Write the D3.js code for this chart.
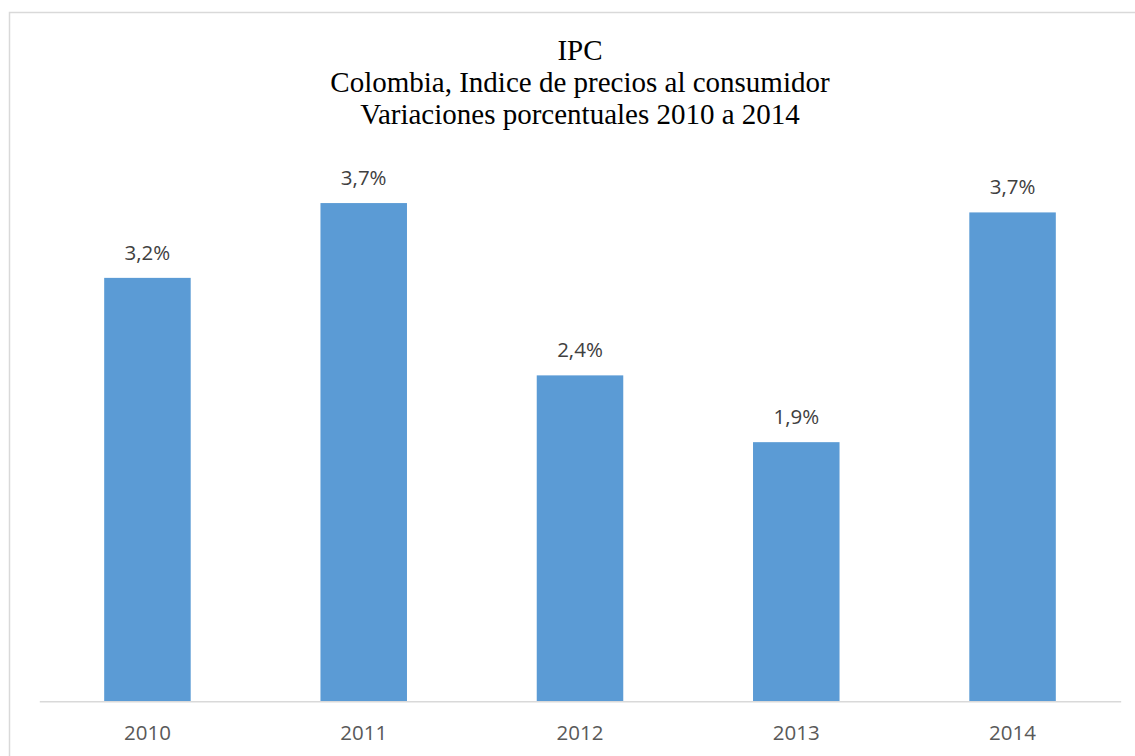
<!DOCTYPE html>
<html>
<head>
<meta charset="utf-8">
<script src="https://cdn.jsdelivr.net/npm/d3@7"></script>
<style>
  html, body { margin: 0; padding: 0; background: #fff; }
  svg { display: block; }
</style>
</head>
<body>
<svg id="chart" width="1135" height="756"></svg>
<script>
const categories = ["2010", "2011", "2012", "2013", "2014"];
const values = [3.17, 3.73, 2.44, 1.94, 3.66];
const titleLines = ["IPC", "Colombia, Indice de precios al consumidor", "Variaciones porcentuales 2010 a 2014"];

const svg = d3.select("#chart");
const W = 1135, H = 756;
const margin = { left: 39.3, right: W - 1120.7, top: 167, bottom: H - 701.3 };

svg.append("rect")
  .attr("x", 9.5).attr("y", 12.5)
  .attr("width", 1300).attr("height", 900)
  .attr("fill", "#fff")
  .attr("stroke", "#d9d9d9").attr("stroke-width", 1.5);

const x = d3.scaleBand()
  .domain(categories)
  .range([margin.left, W - margin.right])
  .paddingInner(0.6)
  .paddingOuter(0.3);

const y = d3.scaleLinear()
  .domain([0, 4])
  .range([H - margin.bottom, margin.top]);

const data = categories.map((c, i) => ({ c, v: values[i] }));

svg.append("g").selectAll("rect")
  .data(data)
  .join("rect")
  .attr("x", d => x(d.c))
  .attr("y", d => y(d.v))
  .attr("width", x.bandwidth())
  .attr("height", d => y(0) - y(d.v))
  .attr("fill", "#5b9bd5");

// x axis
const xAxis = d3.axisBottom(x).tickSize(0).tickPadding(0);
const gx = svg.append("g")
  .attr("transform", `translate(0,${y(0)})`)
  .call(xAxis);
gx.select(".domain").attr("stroke", "#d9d9d9").attr("stroke-width", 1.5);
gx.selectAll(".tick text")
  .attr("y", 0)
  .attr("dy", 0)
  .attr("transform", "translate(0,39)")
  .attr("font-family", "'Open Sans', sans-serif")
  .attr("font-size", 20.5)
  .attr("fill", "#595959");

// data labels
const fmt = v => d3.format(".1f")(v).replace(".", ",") + "%";
svg.append("g").selectAll("text")
  .data(data)
  .join("text")
  .attr("x", d => x(d.c) + x.bandwidth() / 2)
  .attr("y", d => y(d.v) - 18)
  .attr("text-anchor", "middle")
  .attr("font-family", "'Open Sans', sans-serif")
  .attr("font-size", 20.5)
  .attr("fill", "#404040")
  .text(d => fmt(d.v));

// title
const tcx = (margin.left + W - margin.right) / 2;
svg.append("g").selectAll("text")
  .data(titleLines)
  .join("text")
  .attr("x", tcx)
  .attr("y", (d, i) => 59.5 + i * 32.3)
  .attr("text-anchor", "middle")
  .attr("font-family", "'Liberation Serif', 'Times New Roman', serif")
  .attr("font-size", 29)
  .attr("fill", "#000")
  .text(d => d);
</script>
</body>
</html>
